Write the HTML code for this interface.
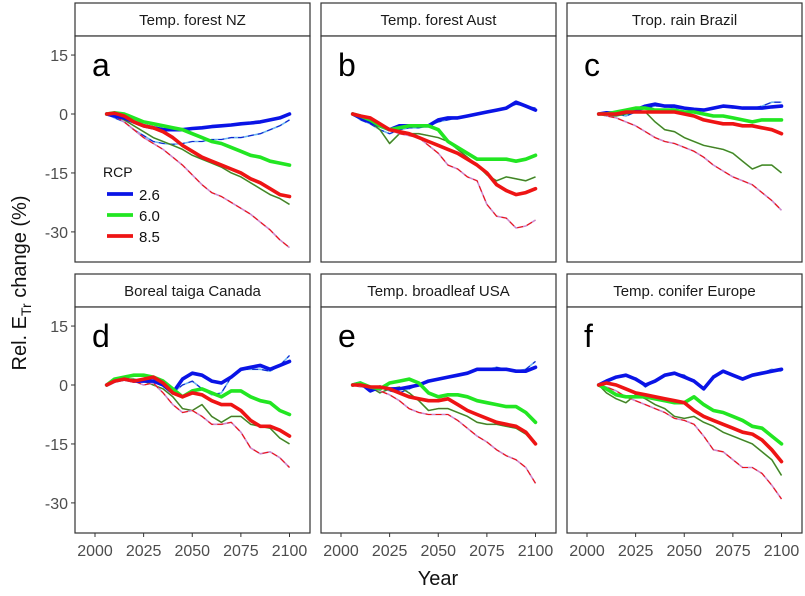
<!DOCTYPE html>
<html><head><meta charset="utf-8">
<style>
html,body{margin:0;padding:0;background:#fff;}
body{width:805px;height:591px;overflow:hidden;font-family:"Liberation Sans",Arial,sans-serif;}
</style></head>
<body>
<svg id="chart" width="805" height="591" viewBox="0 0 805 591" xmlns="http://www.w3.org/2000/svg" font-family="Liberation Sans, Arial, sans-serif">
<text transform="translate(26,283) rotate(-90)" text-anchor="middle" font-size="20" fill="#111">Rel.  E<tspan font-size="14" dy="5">Tr</tspan><tspan dy="-5"> change (%)</tspan></text>
<text x="438" y="585" text-anchor="middle" font-size="20" fill="#111">Year</text>
</svg>
<script>
const years = [2006,2010,2015,2020,2025,2030,2035,2040,2045,2050,2055,2060,2065,2070,2075,2080,2085,2090,2095,2100];
const panelTitles = ["Temp. forest NZ","Temp. forest Aust","Trop. rain Brazil","Boreal taiga Canada","Temp. broadleaf USA","Temp. conifer Europe"];
const panelLetters = ["a","b","c","d","e","f"];
const yTicks = [15,0,-15,-30];
const xTicks = [2000,2025,2050,2075,2100];
const legendLabels = ["2.6","6.0","8.5"];

// a
const aBlue   = [0,-0.5,-1,-2,-3,-3.5,-4,-4,-4,-3.7,-3.5,-3.2,-3,-2.8,-2.5,-2.3,-2,-1.5,-1,0];
const aBlueT  = [0,-1,-2,-4,-5.5,-7,-7.5,-7.7,-7.5,-7,-7,-6.5,-6.5,-6,-6,-5.5,-5,-4,-3,-1.5];
const aGreen  = [0,0.3,0,-1,-2,-2.5,-3,-3.5,-4,-5,-6,-7,-7.5,-8.5,-9.5,-10.5,-11,-12,-12.5,-13];
const aGreenT = [0,-0.5,-1.5,-3,-4.5,-6,-7,-8,-9,-10.5,-11.5,-12.5,-13.5,-15,-16,-17.5,-19,-20.5,-21.5,-23];
const aRed    = [0,0.2,-0.5,-2,-3,-3.5,-4.5,-6,-8,-9.5,-11,-12,-13,-14,-15,-16.5,-17.5,-19,-20.5,-21];
const aRedT   = [0,-0.5,-2,-4,-6,-7.5,-9,-11,-13,-15.5,-18,-20,-21,-22.5,-24,-25.5,-27.5,-29.5,-32,-34];
// b
const bBlue   = [0,-1,-2,-3,-4,-3,-3,-3,-3,-1.5,-1,-1,-0.5,0,0.5,1,1.5,3,2,1];
const bBlueT  = [0,-1.5,-2.5,-4,-5,-4,-3.5,-3.5,-3,-2,-1.5,-1,-0.5,0,0.5,1,1.5,2.5,2,1.5];
const bGreen  = [0,-0.5,-1.5,-3,-4,-3.5,-3,-3,-3,-4,-7,-8.5,-10,-11.5,-11.5,-11.5,-11.5,-12,-11.5,-10.5];
const bGreenT = [0,-1,-2,-4,-7.5,-5,-5,-5,-5.5,-6,-7,-9,-11,-13,-15.5,-17,-16,-16.5,-17,-16];
const bRed    = [0,-0.5,-1,-2.5,-4,-4.5,-5,-6,-7,-8,-9,-10,-11.5,-13,-15,-18,-19.5,-20.5,-20,-19];
const bRedT   = [0,-1,-2,-3,-4,-5,-5.5,-6,-8,-10,-13,-14,-16,-17,-23,-26,-26.5,-29,-28.5,-27];
// c
const cBlue   = [0,0.3,0.2,0.5,1,2,2.5,2,2,1.5,1.2,1,1.5,2,1.8,1.5,1.5,1.5,1.8,2];
const cBlueT  = [0,0.5,0,-0.5,0.5,1.5,2,2,1.5,1.5,1,1,1.5,2,1.5,1.5,1.5,2,3,3];
const cGreen  = [0,0,0.5,1,1.5,1.5,1,1,1,0.5,0.5,0,-0.5,-0.5,-1,-1.5,-2,-1.5,-1.5,-1.5];
const cGreenT = [0,-0.5,-0.5,0,0.5,0.5,-2,-4,-4.5,-6,-7,-8,-8.5,-9,-10,-12,-14,-13,-13,-15];
const cRed    = [0,0,0,0.5,0.5,0.5,0.5,0.5,0.5,0,-0.5,-1.5,-2,-2.5,-2.5,-3,-3,-3.5,-4,-5];
const cRedT   = [0,-0.5,-1,-2,-3,-4.5,-6,-7,-7.5,-8.5,-9.5,-11,-13,-14.5,-16,-17,-18,-20,-22,-24.5];
// d
const dBlue   = [0,1,1.5,1,1,1,0,-2,1.5,3,2.5,1,0.5,2,4,4.5,5,4,5,6];
const dBlueT  = [0,1,1.5,1,1,1,0,-2,0,1,-1,-2.5,-2,2,4,4,4,3.5,5,7.5];
const dGreen  = [0,1.5,2,2.5,2.5,2,1,-1,-3,-1.5,-1,-2,-3,-1.5,-1.5,-3,-4,-4.5,-6.5,-7.5];
const dGreenT = [0,1,1.5,1.5,1,0,-1,-3,-6,-6.5,-5,-8,-9.5,-8,-8,-10,-10.5,-11,-13.5,-15];
const dRed    = [0,1,1.5,1,1.5,2,0.5,-2,-3,-2,-2.5,-4,-5,-5,-6.5,-9,-10.5,-10.5,-11.5,-13];
const dRedT   = [0,1,1.5,1,0,0.5,-2,-5,-7,-6.5,-8,-10,-10,-9.5,-12,-16,-17.5,-17,-18.5,-21];
// e
const eBlue   = [0,0.5,-1.5,-0.5,-1,-1,-0.5,0,1,1.5,2,2.5,3,4,4,4,4,3.5,3.5,4.5];
const eBlueT  = [0,0.5,-1,-0.5,-1.5,-2,-1,0,1,1.5,2,2.5,3,4,4,4.5,4,3.5,4,6];
const eGreen  = [0,0.5,-0.5,-1,0.5,1,1.5,0.5,-2,-3,-2.5,-2.5,-3,-4,-4.5,-5,-5.5,-5.5,-7,-9.5];
const eGreenT = [0,0,-0.5,-2,-1,-0.5,-2,-4,-6.5,-6,-6,-7,-8,-9.5,-10,-10,-10.5,-11,-12.5,-15];
const eRed    = [0,0,-0.5,-0.5,-1,-2,-3,-3.5,-4,-4,-3.5,-5,-6.5,-7.5,-8.5,-9.5,-10,-10.5,-12,-15];
const eRedT   = [0,-0.5,-0.5,-1.5,-2.5,-4,-6,-7,-7.5,-7.5,-7.5,-9,-11,-13,-14.5,-16.5,-18,-19,-21,-25];
// f
const fBlue   = [0,1,2,2.5,1.5,0,1,2.5,3,2,1,-1,2,3.5,2.5,1.5,2.5,3,3.5,4];
const fBlueT  = [0,1,2,2.5,1.5,-0.5,1,2.5,3,2.5,1,-1,2,3.5,2.5,1.5,2.5,3,4,3.5];
const fGreen  = [0,-1,-2.5,-3,-3,-3,-3.5,-4,-4.5,-4.5,-3,-5,-6.5,-7,-8,-9,-10.5,-11,-13,-15];
const fGreenT = [0,-2,-3.5,-4.5,-2.5,-3.5,-5,-6,-8,-8.5,-8,-9.5,-10.5,-12,-13,-14,-15,-17,-19,-23];
const fRed    = [0,0.5,0,-1,-2,-2.5,-3,-3.5,-4,-4.5,-6.5,-8,-9,-10,-11,-12,-12.5,-14,-16.5,-19.5];
const fRedT   = [0,-0.5,-1.5,-3,-4,-5,-6,-7,-8.5,-9,-10,-13,-16.5,-17,-19,-21,-21,-22.5,-25.5,-29];

const panelSeries = [
 [aBlue,aBlueT,aGreen,aGreenT,aRed,aRedT],
 [bBlue,bBlueT,bGreen,bGreenT,bRed,bRedT],
 [cBlue,cBlueT,cGreen,cGreenT,cRed,cRedT],
 [dBlue,dBlueT,dGreen,dGreenT,dRed,dRedT],
 [eBlue,eBlueT,eGreen,eGreenT,eRed,eRedT],
 [fBlue,fBlueT,fGreen,fGreenT,fRed,fRedT]
];

const NS = "http://www.w3.org/2000/svg";
const svg = document.getElementById('chart');
const colX = [75,321,567], rowY = [36,307], PW = 235, PH = 226, STRIP = 33;
function mk(tag, attrs, parent){ const e=document.createElementNS(NS,tag); for(const k in attrs) e.setAttribute(k,attrs[k]); (parent||svg).appendChild(e); return e; }
function xScale(col, yr){ return colX[col] + 20 + (yr-2000)*1.945; }
function yScale(row, v){ return rowY[row] + 78 - v*3.93; }
function pathFor(col,row,arr){ return arr.map((v,i)=>(i?'L':'M')+xScale(col,years[i]).toFixed(1)+','+yScale(row,v).toFixed(1)).join(''); }

const thickColor = ['#0a14e6','#22e622','#ee1414'];
const thinUnder = ['#6ab4f0','#2ee02e','#cc88cc'];
const thinOver  = ['#1020d0','#556b2f','#ee1414'];
const seriesNames = ['rcp26','rcp60','rcp85'];

for(let p=0;p<6;p++){
  const col=p%3,row=Math.floor(p/3);
  const x0=colX[col], y0=rowY[row];
  const g=mk('g',{});
  
  
  const st=mk('rect',{x:x0,y:y0-STRIP,width:PW,height:STRIP,fill:'#fff',stroke:'#333','stroke-width':1.2},g);
  
  
  const tt=mk('text',{x:x0+PW/2,y:y0-11,'text-anchor':'middle','font-size':15,fill:'#1a1a1a'},g);
  tt.textContent=panelTitles[p];
  
  
  const bx=mk('rect',{x:x0,y:y0,width:PW,height:PH,fill:'#fff',stroke:'#333','stroke-width':1.2},g);
  
  
  const lt=mk('text',{x:x0+17,y:y0+40,'font-size':32,fill:'#000'},g);
  lt.textContent=panelLetters[p];
  
  
  if(col===0){
    yTicks.forEach(t=>{
      const ty=yScale(row,t);
      const tk=mk('line',{x1:x0-4,x2:x0,y1:ty,y2:ty,stroke:'#333','stroke-width':1},g);
      
      
      const tl=mk('text',{x:x0-7,y:ty+6,'text-anchor':'end','font-size':16,fill:'#4d4d4d'},g);
      tl.textContent=t;
      
      
    });
  }
  if(row===1){
    xTicks.forEach(t=>{
      const tx=xScale(col,t);
      const tk=mk('line',{x1:tx,x2:tx,y1:y0+PH,y2:y0+PH+4,stroke:'#333','stroke-width':1},g);
      
      
      const tl=mk('text',{x:tx,y:y0+PH+23,'text-anchor':'middle','font-size':16,fill:'#4d4d4d'},g);
      tl.textContent=t;
      
      
    });
  }
  const S=panelSeries[p];
  // thin lines first
  for(let k=0;k<3;k++){
    const d=pathFor(col,row,S[k*2+1]);
    const u=mk('path',{d:d,fill:'none',stroke:thinUnder[k],'stroke-width':1.6,'stroke-linejoin':'round'},g);
    
    
    const o=mk('path',{d:d,fill:'none',stroke:thinOver[k],'stroke-width':1.1,'stroke-dasharray':k===1?'none':'6,4'},g);
    
    
  }
  for(let k=0;k<3;k++){
    const d=pathFor(col,row,S[k*2]);
    const th=mk('path',{d:d,fill:'none',stroke:thickColor[k],'stroke-width':3.6,'stroke-linejoin':'round','stroke-linecap':'round'},g);
    
    
  }
  if(p===0){
    const lg=mk('g',{},g);
    
    
    const lh=mk('text',{x:103,y:177,'font-size':14,fill:'#111'},lg);
    lh.textContent='RCP';
    
    
    for(let k=0;k<3;k++){
      const ly=194+k*21;
      const ll=mk('line',{x1:107,x2:133,y1:ly,y2:ly,stroke:thickColor[k],'stroke-width':3.8},lg);
      
      
      const lx=mk('text',{x:139,y:ly+6,'font-size':15,fill:'#111'},lg);
      lx.textContent=legendLabels[k];
      
      
    }
  }
}
</script>
</body></html>
